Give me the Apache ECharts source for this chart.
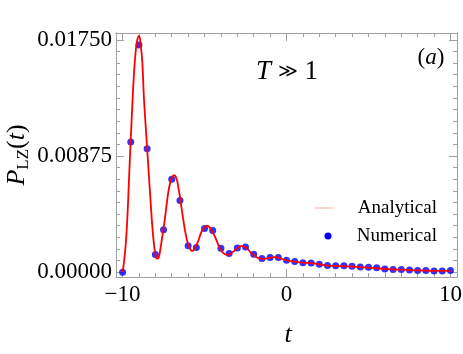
<!DOCTYPE html>
<html>
<head>
<meta charset="utf-8">
<script src="https://cdn.jsdelivr.net/npm/echarts@6/dist/echarts.min.js"></script>
<style>
  html, body { margin: 0; padding: 0; background: #fff; }
  #chart { width: 463px; height: 354px; }
</style>
</head>
<body>
<div id="chart"></div>
<script>
// numerical points (step 0.5)
var numT = [-10, -9.5, -9, -8.5, -8, -7.5, -7, -6.5, -6, -5.5, -5, -4.5, -4, -3.5, -3, -2.5, -2, -1.5, -1, -0.5,
  0, 0.5, 1, 1.5, 2, 2.5, 3, 3.5, 4, 4.5, 5, 5.5, 6, 6.5, 7, 7.5, 8, 8.5, 9, 9.5, 10];
var numP = [0, 0.00981, 0.0171, 0.0093, 0.00133, 0.0032, 0.0070, 0.0054, 0.0020, 0.00186, 0.0033, 0.00315, 0.0018, 0.0014, 0.00183, 0.0019, 0.00136, 0.00103, 0.00111, 0.00111,
  0.0009, 0.00081, 0.00072, 0.0007, 0.0006, 0.0005, 0.00048, 0.00048, 0.00045, 0.0004, 0.00038, 0.00033, 0.00025, 0.0002, 0.0002, 0.00016, 0.00013, 0.00013, 0.0001, 0.0001, 0.00012];

// analytical curve
var anaT = [-10, -9.9, -9.8, -9.7, -9.6, -9.5, -9.4, -9.3, -9.2, -9.1, -9.0, -8.9, -8.8, -8.7, -8.6, -8.5, -8.4, -8.3, -8.2, -8.1, -8.0,
  -7.9, -7.8, -7.7, -7.6, -7.5, -7.4, -7.3, -7.2, -7.1, -7.0, -6.85, -6.7, -6.6, -6.5, -6.4, -6.3, -6.2, -6.1, -6.0, -5.9, -5.75, -5.6, -5.4, -5.2, -5.0,
  -4.85, -4.7, -4.5, -4.3, -4.1, -3.9, -3.6, -3.3, -3.0, -2.75, -2.5, -2.2, -1.9, -1.6, -1.4, -1.2, -0.9, -0.7, -0.4,
  0, 0.5, 1, 1.5, 2, 2.5, 3, 3.5, 4, 4.5, 5, 5.5, 6, 6.5, 7, 7.5, 8, 8.5, 9, 9.5, 10];
var anaP = [0, 0.0009, 0.0022, 0.0043, 0.0072, 0.0100, 0.0127, 0.0150, 0.0166, 0.0175, 0.0178, 0.0172, 0.0159, 0.0132, 0.0112, 0.0093, 0.0074, 0.0055, 0.0037, 0.0023, 0.0014,
  0.00103, 0.0011, 0.0017, 0.0025, 0.0033, 0.0042, 0.0052, 0.0061, 0.0067, 0.0071, 0.0073, 0.0070, 0.0064, 0.0057, 0.0048, 0.0040, 0.0032, 0.0026, 0.0021, 0.0018, 0.0016, 0.0018, 0.0023, 0.0030, 0.0034,
  0.0035, 0.0034, 0.0030, 0.0025, 0.0019, 0.0015, 0.0013, 0.0015, 0.0018, 0.00196, 0.0019, 0.0015, 0.0012, 0.00102, 0.0010, 0.00105, 0.00112, 0.00113, 0.00105,
  0.0009, 0.0008, 0.00072, 0.00068, 0.0006, 0.0005, 0.00047, 0.00046, 0.00043, 0.00038, 0.00035, 0.0003, 0.00025, 0.00021, 0.00019, 0.00016, 0.00014, 0.00012, 0.0001, 0.0001, 0.0001];

var xMajor = [-10, 0, 10];
var yMajor = [0, 0.00875, 0.0175];

var xMinor = [];
for (var i = -10; i <= 10; i++) xMinor.push(i);
var yMinor = [];
for (var k = 0; k <= 20; k++) yMinor.push(k * 0.000875);

var serif = 'Liberation Serif';
var frameColor = '#a0a0a0';
var xMin = -10.4, xMax = 10.4, yMin = -0.00036, yMax = 0.01801;

function xAx(pos, values, len, labels) {
  return {
    type: 'value', position: pos, min: xMin, max: xMax,
    axisLine: { show: true, onZero: false, lineStyle: { color: frameColor, width: 1 } },
    axisTick: { show: true, inside: true, length: len, customValues: values, lineStyle: { color: frameColor } },
    axisLabel: labels ? {
      show: true, customValues: values, margin: 6, color: '#000', fontFamily: serif, fontSize: 23,
      formatter: function (v) { return String(v).replace('-', '\u2212'); }
    } : { show: false },
    splitLine: { show: false }
  };
}
function yAx(pos, values, len, labels) {
  return {
    type: 'value', position: pos, min: yMin, max: yMax,
    axisLine: { show: true, onZero: false, lineStyle: { color: frameColor, width: 1 } },
    axisTick: { show: true, inside: true, length: len, customValues: values, lineStyle: { color: frameColor } },
    axisLabel: labels ? {
      show: true, customValues: values, margin: 4, color: '#000', fontFamily: serif, fontSize: 23,
      formatter: function (v) { return v.toFixed(5); }
    } : { show: false },
    splitLine: { show: false }
  };
}

var chart = echarts.init(document.getElementById('chart'), null, { renderer: 'canvas' });

var anaData = anaT.map(function (t, i) { return [t, anaP[i]]; });
var numData = numT.map(function (t, i) { return [t, numP[i]]; });

chart.setOption({
  animation: false,
  backgroundColor: '#fff',
  grid: { left: 116, right: 6, top: 33, bottom: 77, containLabel: false, outerBoundsMode: 'none' },
  xAxis: [
    xAx('bottom', xMajor, 8, true),
    xAx('bottom', xMinor, 4, false),
    xAx('top', xMajor, 8, false),
    xAx('top', xMinor, 4, false)
  ],
  yAxis: [
    yAx('left', yMajor, 8, true),
    yAx('left', yMinor, 4, false),
    yAx('right', yMajor, 8, false),
    yAx('right', yMinor, 4, false)
  ],
  series: [
    {
      name: 'Numerical', type: 'scatter', xAxisIndex: 0, yAxisIndex: 0,
      symbol: 'circle', symbolSize: 7, z: 2,
      itemStyle: { color: '#0000ff' },
      data: numData
    },
    {
      name: 'Analytical', type: 'line', xAxisIndex: 0, yAxisIndex: 0,
      showSymbol: false, smooth: 0.5, z: 3,
      lineStyle: { color: '#ff0000', width: 1.8 },
      data: anaData
    }
  ],
  graphic: [
    {
      type: 'text', x: 17, y: 155, rotation: Math.PI / 2,
      style: {
        text: '{i|P}{s|LZ}{n|(}{i|t}{n|)}',
        textAlign: 'center', textVerticalAlign: 'middle',
        rich: {
          i: { fontFamily: serif, fontStyle: 'italic', fontSize: 26, lineHeight: 30, fill: '#000' },
          n: { fontFamily: serif, fontSize: 26, lineHeight: 30, fill: '#000' },
          s: { fontFamily: serif, fontSize: 17, lineHeight: 23, verticalAlign: 'bottom', fill: '#000' }
        }
      }
    },
    {
      type: 'text', x: 288, y: 335,
      style: { text: 't', fontFamily: serif, fontStyle: 'italic', fontSize: 26, fill: '#000', textAlign: 'center', textVerticalAlign: 'middle' }
    },
    {
      type: 'text', x: 287, y: 72,
      style: {
        text: '{i|T}{n| }{g|\u226B}{n| 1}', textAlign: 'center', textVerticalAlign: 'middle',
        rich: {
          i: { fontFamily: serif, fontStyle: 'italic', fontSize: 27, fill: '#000' },
          n: { fontFamily: serif, fontSize: 27, fill: '#000' },
          g: { fontFamily: 'DejaVu Serif', fontSize: 19, fill: '#000' }
        }
      }
    },
    {
      type: 'text', x: 431, y: 58,
      style: {
        text: '{n|(}{i|a}{n|)}', textAlign: 'center', textVerticalAlign: 'middle',
        rich: {
          i: { fontFamily: serif, fontStyle: 'italic', fontSize: 23, fill: '#000' },
          n: { fontFamily: serif, fontSize: 23, fill: '#000' }
        }
      }
    },
    {
      type: 'line', shape: { x1: 315, y1: 208, x2: 333, y2: 208 },
      style: { stroke: '#ffc4c4', lineWidth: 1.5 }
    },
    {
      type: 'text', x: 437, y: 208,
      style: { text: 'Analytical', fontFamily: serif, fontSize: 19, fill: '#000', textAlign: 'right', textVerticalAlign: 'middle' }
    },
    {
      type: 'circle', shape: { cx: 328, cy: 236, r: 3.5 },
      style: { fill: '#0000ff' }
    },
    {
      type: 'text', x: 437, y: 236,
      style: { text: 'Numerical', fontFamily: serif, fontSize: 19, fill: '#000', textAlign: 'right', textVerticalAlign: 'middle' }
    }
  ]
});
</script>
</body>
</html>
